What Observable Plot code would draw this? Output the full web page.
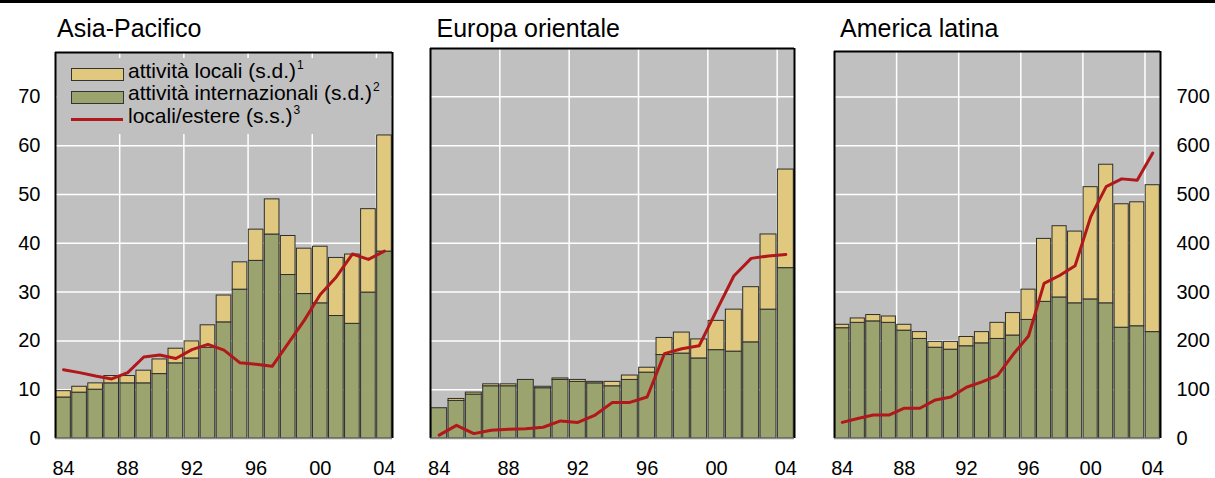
<!DOCTYPE html>
<html><head><meta charset="utf-8">
<script src="https://cdn.jsdelivr.net/npm/d3@7"></script>
<script src="https://cdn.jsdelivr.net/npm/@observablehq/plot@0.6"></script>
<style>
body{margin:0;background:#fff;font-family:"Liberation Sans",Arial,Helvetica,sans-serif;}
#root{position:relative;width:1215px;height:478px;overflow:hidden;}
.topline{position:absolute;left:0;top:0;width:1215px;height:2.5px;background:#000;}
.title{position:absolute;font-size:25px;line-height:25px;color:#000;white-space:nowrap;}
.panel{position:absolute;top:0;}
.legbox{position:absolute;left:57px;top:58px;width:334px;height:76px;background:#c0c0c0;}
.sw{position:absolute;left:71px;width:51px;height:11px;border:1px solid #333;box-sizing:content-box;}
.ln{position:absolute;left:71px;width:52px;height:3px;background:#b0181b;}
.lt{position:absolute;left:128px;font-size:21px;line-height:22.5px;color:#000;white-space:nowrap;}
.lt sup{font-size:12px;vertical-align:0;position:relative;top:-9px;margin-left:1px;}
</style>
</head><body>
<div id="root">
  <div class="topline"></div>
</div>
<script>
// ---- data ----
const years = [1984,1985,1986,1987,1988,1989,1990,1991,1992,1993,1994,1995,1996,1997,1998,1999,2000,2001,2002,2003,2004];
const xTickYears = [1984,1988,1992,1996,2000,2004];
const xTickLabels = ["84","88","92","96","00","04"];
const leftTicks = [0,10,20,30,40,50,60,70];
const rightTicks = [0,100,200,300,400,500,600,700];
const regionNames = ["Asia-Pacifico","Europa orientale","America latina"];
const seriesNames = ["attività internazionali","attività locali"];

// Asia-Pacifico
const asiaIntl  = [8.4,9.4,10.0,11.3,11.3,11.3,13.2,15.4,16.4,18.6,23.8,30.5,36.4,41.8,33.5,29.6,27.7,25.1,23.5,29.9,38.3];
const asiaLocal = [1.3,1.2,1.3,1.5,1.5,2.6,3.0,3.0,3.5,4.6,5.5,5.6,6.4,7.2,8.0,9.3,11.6,11.9,14.2,17.1,23.8];
const asiaRatio = [141,135,128,122,135,167,171,164,182,193,181,155,152,148,195,242,295,331,378,367,384];
// Europa orientale
const euIntl  = [6.2,7.7,9.0,10.7,10.7,12.0,10.3,12.0,11.6,11.3,10.7,12.0,13.5,17.1,17.4,16.4,18.1,17.8,19.7,26.4,34.9];
const euLocal = [0.0,0.4,0.4,0.4,0.4,0.0,0.3,0.3,0.4,0.3,0.9,0.9,1.0,3.5,4.3,3.9,6.0,8.6,11.3,15.4,20.2];
const euRatio = [7,27,10,17,19,20,23,36,33,48,74,74,85,174,184,190,262,333,369,374,377];
// America latina
const latIntl  = [22.6,23.7,24.0,23.7,22.1,20.4,18.6,18.2,18.9,19.5,20.4,21.1,24.3,28.0,28.9,27.7,28.5,27.7,22.7,23.0,21.8];
const latLocal = [0.7,0.9,1.3,1.3,1.2,1.4,1.2,1.6,1.9,2.3,3.3,4.6,6.2,12.9,14.6,14.7,23.0,28.4,25.3,25.4,30.1];
const latRatio = [33,41,48,48,62,62,79,85,105,116,129,172,210,318,334,354,454,516,532,529,585];

// ---- styles ----
const C = {bg:"#c0c0c0", grid:"#ffffff", local:"#e0c97e", intl:"#9ba46e", line:"#b0181b", barStroke:"#2e2e2e"};
const FONT = "'Liberation Sans', Arial, Helvetica, sans-serif";

function stackRows(intl, local){
  const rows = [];
  years.forEach((y,i)=>rows.push({year:y, series:seriesNames[0], value:intl[i]}));
  years.forEach((y,i)=>rows.push({year:y, series:seriesNames[1], value:local[i]}));
  return rows;
}
function lineRows(ratio){ return years.map((y,i)=>({year:y, ratio:ratio[i]})); }

function makePanel(cfg){
  const yMax = cfg.yMax;
  const marks = [
    Plot.rect([0], {x1: years[0], x2: years[years.length-1]+1, y1: 0, y2: yMax, fill: C.bg}),
    Plot.ruleY(leftTicks.slice(1), {stroke: C.grid, strokeWidth: 1.5}),
    Plot.ruleX(xTickYears.slice(1), {stroke: C.grid, strokeWidth: 1.5}),
    Plot.rectY(stackRows(cfg.intl, cfg.local), {x: "year", interval: 1, y: "value", fill: "series",
      order: seriesNames, stroke: C.barStroke, strokeWidth: 1, insetLeft: 0.7, insetRight: 0.7}),
    Plot.line(lineRows(cfg.ratio), {x: d => d.year + 0.5, y: d => d.ratio / 10, stroke: C.line, strokeWidth: 3, strokeLinejoin: "round"}),
    Plot.ruleX([years[0], years[years.length-1]+1], {stroke: "#000", strokeWidth: 2}),
    Plot.ruleY([yMax], {stroke: "#000", strokeWidth: 2}),
    Plot.ruleY([0], {stroke: "#8a8a8a", strokeWidth: 1.5}),
    Plot.axisX({ticks: xTickYears.map(y => y + 0.5), tickFormat: (d,i) => xTickLabels[i], tickSize: 0, tickPadding: 22, fontSize: 20, label: null})
  ];
  if (cfg.axis === "left") marks.push(Plot.axisY({anchor: "left", ticks: leftTicks, tickSize: 0, tickPadding: 15, fontSize: 20, label: null}));
  if (cfg.axis === "right") marks.push(Plot.axisY({anchor: "right", ticks: leftTicks, tickFormat: (d,i) => String(rightTicks[i]), tickSize: 0, tickPadding: 16, fontSize: 20, label: null}));
  const svg = Plot.plot({
    width: cfg.width, height: 478,
    marginLeft: cfg.ml, marginRight: cfg.mr, marginTop: cfg.mt, marginBottom: 40,
    x: {domain: [years[0], years[years.length-1]+1], axis: null},
    y: {domain: [0, yMax], axis: null},
    color: {domain: seriesNames, range: [C.intl, C.local]},
    style: {fontFamily: FONT, fontSize: "20px", color: "#000", background: "transparent", overflow: "visible"},
    marks
  });
  const wrap = document.createElement("div");
  wrap.className = "panel";
  wrap.style.left = cfg.left + "px";
  wrap.appendChild(svg);
  document.getElementById("root").appendChild(wrap);
  const t = document.createElement("div");
  t.className = "title";
  t.style.left = cfg.titleX + "px";
  t.style.top = "15.5px";
  t.textContent = cfg.title;
  document.getElementById("root").appendChild(t);
}

makePanel({title: regionNames[0], titleX: 57, left: 0, width: 400, ml: 55, mr: 8, mt: 52, yMax: 79.1, intl: asiaIntl, local: asiaLocal, ratio: asiaRatio, axis: "left"});
makePanel({title: regionNames[1], titleX: 436.5, left: 400, width: 400, ml: 30, mr: 6, mt: 48, yMax: 79.9, intl: euIntl, local: euLocal, ratio: euRatio, axis: null});
makePanel({title: regionNames[2], titleX: 840, left: 800, width: 415, ml: 34, mr: 55, mt: 51, yMax: 79.3, intl: latIntl, local: latLocal, ratio: latRatio, axis: "right"});

// ---- legend ----
const root = document.getElementById("root");
const leg = document.createElement("div");
leg.innerHTML = `
  <div class="legbox"></div>
  <div class="sw" style="top:68px;background:${C.local}"></div>
  <div class="lt" style="top:59.8px">attività locali (s.d.)<sup>1</sup></div>
  <div class="sw" style="top:91px;background:${C.intl}"></div>
  <div class="lt" style="top:82.3px">attività internazionali (s.d.)<sup>2</sup></div>
  <div class="ln" style="top:117.8px"></div>
  <div class="lt" style="top:104.8px">locali/estere (s.s.)<sup>3</sup></div>`;
root.appendChild(leg);
</script>
</body></html>
